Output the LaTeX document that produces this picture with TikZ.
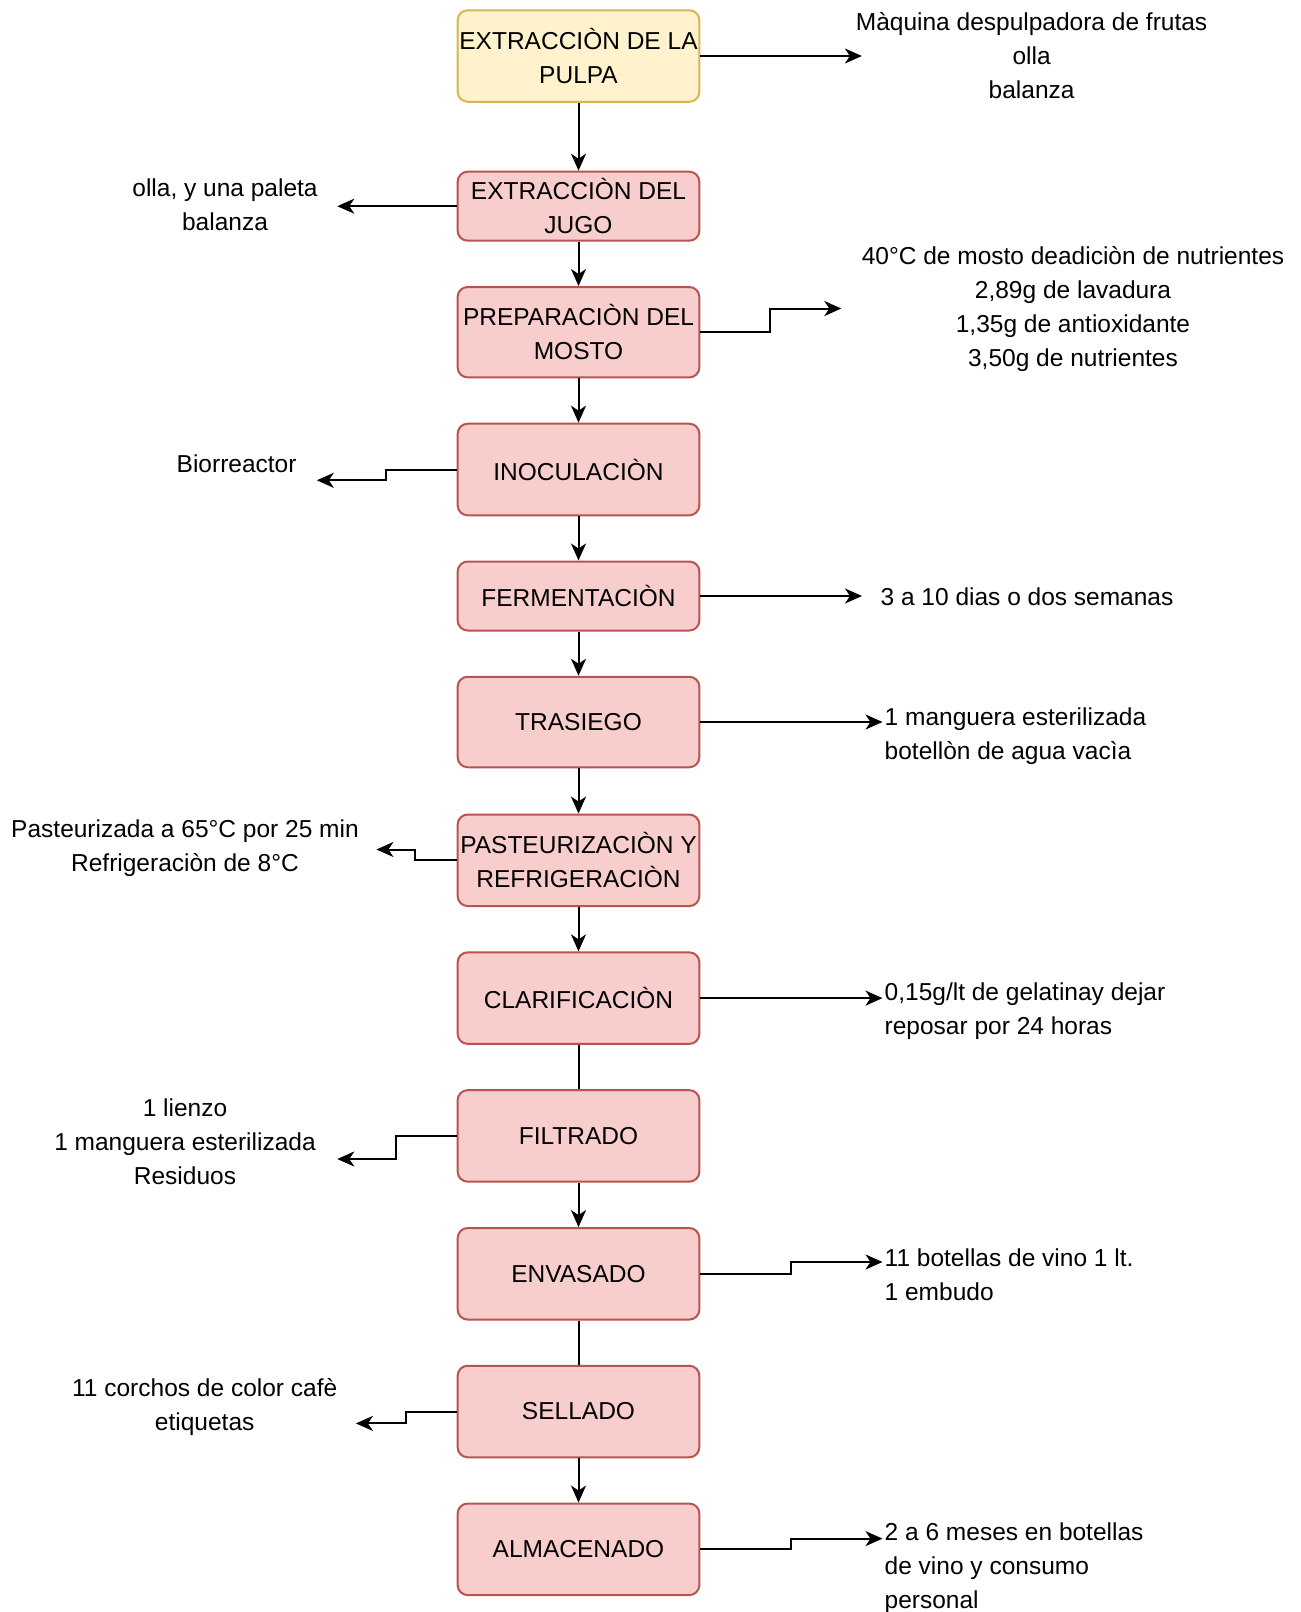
\documentclass[tikz,border=0pt]{standalone}
\usepackage{fontspec}
\setmainfont{Liberation Sans}
\usetikzlibrary{arrows.meta}
\definecolor{redf}{HTML}{F8CECC}
\definecolor{redb}{HTML}{B85450}
\definecolor{yelf}{HTML}{FFF2CC}
\definecolor{yelb}{HTML}{D6B656}
\begin{document}
\begin{tikzpicture}[x=1pt,y=-1pt,
  font=\fontsize{24.5}{34}\selectfont,
  proc/.style={draw=redb, fill=redf, rounded corners=10pt, line width=2pt,
    minimum width=241.7pt, align=center, inner sep=0pt},
  lbl/.style={inner sep=0pt, align=center},
  lbll/.style={inner sep=0pt, align=left, anchor=west},
  arr/.style={line width=2pt, -{Stealth[length=17pt,width=15pt,inset=5pt]}},
  ln/.style={line width=2pt}]
\useasboundingbox (0,0) rectangle (1301,1612);
% process boxes
\node[proc, fill=yelf, draw=yelb, minimum height=91.5pt] (b1) at (578.5,56) {EXTRACCIÒN DE LA\\PULPA};
\node[proc, minimum height=69pt] (b2) at (578.5,206.2) {EXTRACCIÒN DEL\\JUGO};
\node[proc, minimum height=90.4pt] (b3) at (578.5,332.2) {PREPARACIÒN DEL\\MOSTO};
\node[proc, minimum height=91.6pt] (b4) at (578.5,469.5) {INOCULACIÒN};
\node[proc, minimum height=69pt] (b5) at (578.5,596) {FERMENTACIÒN};
\node[proc, minimum height=90.5pt] (b6) at (578.5,722) {TRASIEGO};
\node[proc, minimum height=91.5pt] (b7) at (578.5,860.3) {PASTEURIZACIÒN Y\\REFRIGERACIÒN};
\node[proc, minimum height=91.5pt] (b8) at (578.5,998.1) {CLARIFICACIÒN};
\node[proc, minimum height=91.5pt] (b9) at (578.5,1135.9) {FILTRADO};
\node[proc, minimum height=91.5pt] (b10) at (578.5,1273.8) {ENVASADO};
\node[proc, minimum height=91.5pt] (b11) at (578.5,1411.5) {SELLADO};
\node[proc, minimum height=91.5pt] (b12) at (578.5,1549.3) {ALMACENADO};
% vertical connectors
\draw[arr] (b1) -- (b2);
\draw[arr] (b2) -- (b3);
\draw[arr] (b3) -- (b4);
\draw[arr] (b4) -- (b5);
\draw[arr] (b5) -- (b6);
\draw[arr] (b6) -- (b7);
\draw[arr] (b7) -- (b8);
\draw[ln] (b8) -- (b9);
\draw[arr] (b9) -- (b10);
\draw[ln] (b10) -- (b11);
\draw[arr] (b11) -- (b12);
% side labels
\node[lbl] (t1) at (1031.6,56) {Màquina despulpadora de frutas\\olla\\balanza};
\node[lbl] (t2) at (225,205) {olla, y una paleta\\balanza};
\node[lbl] (t3) at (1073,309) {40°C de mosto deadiciòn de nutrientes\\2,89g de lavadura\\1,35g de antioxidante\\3,50g de nutrientes};
\node[lbl] (t4) at (236.6,463.8) {Biorreactor};
\node[lbll] (t5) at (880.4,596.5) {3 a 10 dias o dos semanas};
\node[lbll] (t6) at (884.5,736) {1 manguera esterilizada\\botellòn de agua vacìa};
\node[lbl] (t7) at (185,848.5) {Pasteurizada a 65°C por 25 min\\Refrigeraciòn de 8°C};
\node[lbll] (t8) at (884.5,1011.5) {0,15g/lt de gelatinay dejar\\reposar por 24 horas};
\node[lbl] (t9) at (185,1142) {1 lienzo\\1 manguera esterilizada\\Residuos};
\node[lbll] (t10) at (884.5,1275) {11 botellas de vino 1 lt.\\1 embudo};
\node[lbl] (t11) at (204.7,1407) {11 corchos de color cafè\\etiquetas};
\node[lbll] (t12) at (884.5,1568) {2 a 6 meses en botellas\\de vino y consumo\\personal};
% arrow end points
\coordinate (e1) at (861.9,56);
\coordinate (e2) at (337.3,206.2);
\coordinate (e3) at (841.3,308.5);
\coordinate (e4) at (316.8,480.3);
\coordinate (e5) at (862,596);
\coordinate (e6) at (882.5,722);
\coordinate (e7) at (376.4,849.5);
\coordinate (e8) at (882.5,998.1);
\coordinate (e9) at (337.3,1159);
\coordinate (e10) at (882.5,1262);
\coordinate (e11) at (355.9,1423.4);
\coordinate (e12) at (882.5,1538.6);
% side connectors
\draw[arr] (b1.east) -- (e1);
\draw[arr] (b2.west) -- (e2);
\draw[arr] (b3.east) -- ++(69.9,0) |- (e3);
\draw[arr] (b4.west) -- ++(-71,0) |- (e4);
\draw[arr] (b5.east) -- (e5);
\draw[arr] (b6.east) -- (e6);
\draw[arr] (b7.west) -- ++(-41.2,0) |- (e7);
\draw[arr] (b8.east) -- (e8);
\draw[arr] (b9.west) -- ++(-60.7,0) |- (e9);
\draw[arr] (b10.east) -- ++(90.5,0) |- (e10);
\draw[arr] (b11.west) -- ++(-50.4,0) |- (e11);
\draw[arr] (b12.east) -- ++(90.5,0) |- (e12);
\end{tikzpicture}
\end{document}
